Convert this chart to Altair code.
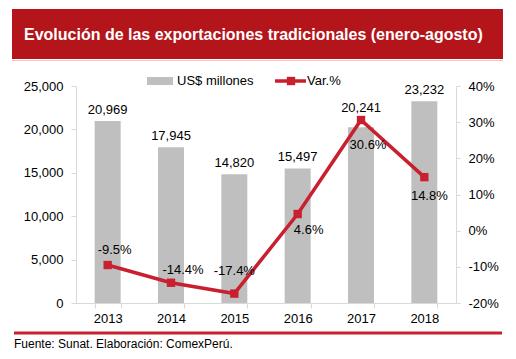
import altair as alt
import pandas as pd

years = ["2013", "2014", "2015", "2016", "2017", "2018"]
exports = [20969, 17945, 14820, 15497, 20241, 23232]
variation = [-9.5, -14.4, -17.4, 4.6, 30.6, 14.8]
left_ticks = [0, 5000, 10000, 15000, 20000, 25000]
right_ticks = [-20, -10, 0, 10, 20, 30, 40]

title_text = "Evolución de las exportaciones tradicionales (enero-agosto)"
footer_text = "Fuente: Sunat. Elaboración: ComexPerú."
legend_bar = "US$ millones"
legend_line = "Var.%"

df = pd.DataFrame({"year": years, "exports": exports, "var": variation})
df["bar_label"] = [f"{v:,}" for v in exports]
df["var_label"] = [f"{v:.1f}%" for v in variation]

FONT = "Liberation Sans"
RED = "#C8202F"
BANNER = "#B3151A"
GRID = "#d9d9d9"

base = alt.Chart(df)
one = alt.Chart(alt.Data(values=[{}]))

x_enc = alt.X(
    "year:N",
    title=None,
    sort=years,
    scale=alt.Scale(paddingInner=0.59, paddingOuter=0.295),
    axis=alt.Axis(labelAngle=0, tickBand="extent", tickSize=5, labelPadding=4,
                  domainColor=GRID, tickColor=GRID, labelFontSize=13,
                  labelFont=FONT, labelColor="black"),
)

y_left = alt.Y(
    "exports:Q",
    title=None,
    scale=alt.Scale(domain=[0, 25000], nice=False),
    axis=alt.Axis(values=left_ticks, format=",.0f", tickSize=5, labelPadding=8,
                  domainColor=GRID, tickColor=GRID, labelFontSize=13,
                  labelFont=FONT, labelColor="black", grid=False),
)

y_right = alt.Y(
    "var:Q",
    title=None,
    scale=alt.Scale(domain=[-20, 40], nice=False),
    axis=alt.Axis(orient="right", values=right_ticks, labelExpr="datum.value + '%'",
                  tickSize=4, labelPadding=8, domainColor=GRID, tickColor=GRID,
                  labelFontSize=13, labelFont=FONT, labelColor="black", grid=False),
)

bars = base.mark_bar(color="#bfbfbf").encode(x=x_enc, y=y_left)

bar_labels = []
for yr in years:
    dy = -19 if yr == "2017" else -11
    bar_labels.append(
        base.transform_filter(alt.datum.year == yr)
        .mark_text(font=FONT, fontSize=13, color="black", baseline="middle", dy=dy)
        .encode(x=x_enc, y=y_left, text="bar_label:N")
    )

left_layer = alt.layer(bars, *bar_labels)

line = base.mark_line(color=RED, strokeWidth=3.5).encode(x=x_enc, y=y_right)
pts = base.mark_point(shape="square", filled=True, color=RED, size=70, opacity=1).encode(
    x=x_enc, y=y_right)

offsets = {"2013": (7, -15), "2014": (12, -13), "2015": (0, -23),
           "2016": (11, 16), "2017": (7, 25), "2018": (5, 19)}
var_labels = []
for yr in years:
    dx, dy = offsets[yr]
    var_labels.append(
        base.transform_filter(alt.datum.year == yr)
        .mark_text(font=FONT, fontSize=13, color="black", baseline="middle", dx=dx, dy=dy)
        .encode(x=x_enc, y=y_right, text="var_label:N")
    )

right_layer = alt.layer(line, pts, *var_labels)

# decorations (banner, legend, footer)
banner = one.mark_rect(color=BANNER).encode(
    x=alt.value(-64), x2=alt.value(427), y=alt.value(-77), y2=alt.value(-27))
banner_text = one.mark_text(font=FONT, fontSize=16, fontWeight="bold", color="white",
                            align="left", baseline="middle").encode(
    x=alt.value(-52), y=alt.value(-51), text=alt.value(title_text))
pink = one.mark_rule(color="#f2c4c4", strokeWidth=1).encode(
    x=alt.value(-64), x2=alt.value(427), y=alt.value(-25.5))

leg_rect = one.mark_rect(color="#bfbfbf").encode(
    x=alt.value(71), x2=alt.value(97), y=alt.value(-9), y2=alt.value(-1))
leg_text1 = one.mark_text(font=FONT, fontSize=13, color="black", align="left", baseline="middle").encode(
    x=alt.value(101), y=alt.value(-5), text=alt.value(legend_bar))
leg_line = one.mark_rule(color=RED, strokeWidth=3.5).encode(
    x=alt.value(199), x2=alt.value(230), y=alt.value(-5))
leg_pt = one.mark_point(shape="square", filled=True, color=RED, size=70, opacity=1).encode(
    x=alt.value(215), y=alt.value(-5))
leg_text2 = one.mark_text(font=FONT, fontSize=13, color="black", align="left", baseline="middle").encode(
    x=alt.value(231), y=alt.value(-5), text=alt.value(legend_line))

foot_line = one.mark_rule(color=RED, strokeWidth=3).encode(
    x=alt.value(-62), x2=alt.value(426), y=alt.value(247))
foot_text = one.mark_text(font=FONT, fontSize=12, color="black", align="left", baseline="middle").encode(
    x=alt.value(-62), y=alt.value(258), text=alt.value(footer_text))

deco = alt.layer(banner, banner_text, pink, leg_rect, leg_text1, leg_line, leg_pt, leg_text2,
                 foot_line, foot_text)

chart = alt.layer(left_layer, right_layer, deco).resolve_scale(y="independent").properties(
    width=380, height=217,
    autosize=alt.AutoSizeParams(type="none"),
    padding={"left": 68, "top": 78, "right": 50, "bottom": 50},
).configure_view(stroke=None).configure_axis(grid=False)

chart.save("out.html", embed_options={"renderer": "svg", "actions": False})
